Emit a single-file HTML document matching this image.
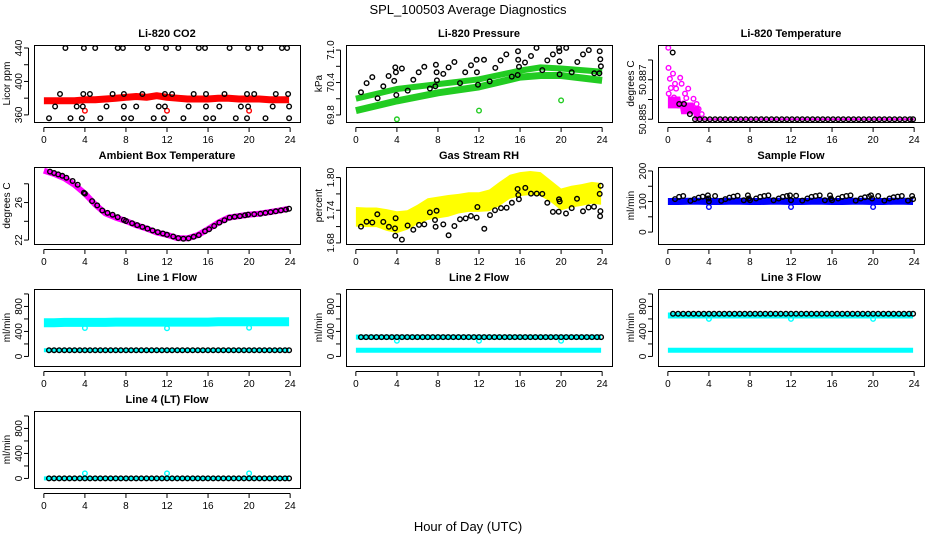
<!DOCTYPE html>
<html><head><meta charset="utf-8">
<style>
html,body{margin:0;padding:0;background:#fff;}
svg{display:block;font-family:"Liberation Sans",Arial,sans-serif;}
</style></head>
<body>
<svg id="chart" width="936" height="540" viewBox="0 0 936 540" xmlns="http://www.w3.org/2000/svg">
<text x="468" y="14" text-anchor="middle" font-size="13">SPL_100503  Average Diagnostics</text>
<text x="468" y="531" text-anchor="middle" font-size="13">Hour of Day (UTC)</text>
</svg>
<script>
// ---------- DATA ----------
const xTicks = [0,4,8,12,16,20,24];
const hourly = [0,1,2,3,4,5,6,7,8,9,10,11,12,13,14,15,16,17,18,19,20,21,22,23,23.9];

// CO2
const co2RedValues = [377,377,377,377,378,378,379,380,381,382,381,383,381,380,379,379,379,380,380,379,379,379,378,378,378];
const co2RedOutHours = [4.0,12.0,20.0];
const co2RedOutValues = [365,365,365];
const co2BlackHours = [2.1,3.9,5.0,7.2,7.7,10.1,11.9,13.1,15.1,15.7,18.1,19.9,21.1,23.2,23.7,
 1.57,3.84,4.49,6.7,7.8,9.6,11.8,12.5,14.6,15.8,17.6,19.8,20.5,22.6,23.8,
 1.1,3.2,3.8,6.1,7.8,9.0,11.2,11.8,14.1,15.8,17.1,19.2,19.9,22.3,23.9,
 0.5,2.6,3.7,5.5,7.8,8.5,10.7,11.7,13.6,15.8,16.5,18.7,19.8,21.6,23.9];
const co2BlackValues = [440,440,440,440,440,440,440,440,440,440,440,440,440,440,440,
 385,385,385,385,385,385,385,385,385,385,385,385,385,385,385,
 370,370,370,370,370,370,370,370,370,370,370,370,370,370,370,
 356,356,356,356,356,356,356,356,356,356,356,356,356,356,356];

// Pressure
const presHours = [0,4,8,12,16,18,20,24];
const presUpper = [70.10,70.28,70.37,70.46,70.62,70.68,70.66,70.60];
const presLower = [69.88,70.06,70.21,70.32,70.50,70.53,70.53,70.44];
const presGreenOutHours = [4.0,12.0,20.0];
const presGreenOutValues = [69.72,69.88,70.07];
const presBlackHours = [0.5,1.05,1.6,2.12,2.67,3.19,3.74,3.84,3.9,3.94,4.49,5.05,5.6,6.12,6.67,7.22,7.74,7.8,7.87,7.9,8.52,9.04,9.6,10.15,10.66,11.22,11.77,11.8,11.9,12.49,13.04,13.59,14.1,14.66,15.2,15.77,15.8,15.82,15.9,16.48,17.07,17.6,18.17,18.66,19.2,19.8,19.83,19.84,19.85,20.5,21.03,21.58,22.13,22.7,23.24,23.76,23.82,23.88,23.73];
const presBlackValues = [70.22,70.39,70.50,70.11,70.33,70.52,70.43,70.68,70.59,70.17,70.66,70.25,70.45,70.59,70.69,70.29,70.33,70.73,70.59,70.44,70.56,70.68,70.78,70.39,70.59,70.72,70.82,70.59,70.36,70.82,70.42,70.67,70.81,70.92,70.51,70.54,70.98,70.82,70.69,70.77,70.89,71.04,70.63,70.81,70.92,71.04,70.98,70.79,70.55,71.04,70.59,70.78,70.92,71.00,70.57,70.98,70.83,70.70,70.57];

// Li-820 temperature
const tempMagHours = [0.04,0.06,0.5,0.2,0.7,0.3,0.08,1.2,1.34,0.8,1.98,1.67,1.8,2.5,2.8,3.0,3.3,0.4,0.9,1.5,2.2,2.6,1.0,0.6,1.9];
const tempMagValues = [50.88862,50.88760,50.88731,50.88705,50.88680,50.88658,50.88630,50.88710,50.88680,50.88655,50.88655,50.88630,50.88607,50.88604,50.88577,50.88552,50.88526,50.8860,50.8859,50.8858,50.8856,50.8854,50.8857,50.8861,50.8855];
const tempBandHours = [0.0,1.2,1.3,2.5,2.6,3.1,3.2,24.0];
const tempBandHigh = [50.88615,50.88615,50.88585,50.88585,50.88565,50.88565,50.88505,50.88505];
const tempBandLow = [50.88555,50.88555,50.88525,50.88525,50.88495,50.88495,50.88495,50.88495];
const tempBlackHours = [0.47,1.11,1.57,2.15,2.65,3.1,3.6,4.1,4.6,5.1,5.6,6.1,6.6,7.1,7.6,8.1,8.6,9.1,9.6,10.1,10.6,11.1,11.6,12.1,12.6,13.1,13.6,14.1,14.6,15.1,15.6,16.1,16.6,17.1,17.6,18.1,18.6,19.1,19.6,20.1,20.6,21.1,21.6,22.1,22.6,23.1,23.6,23.9];
const tempBlackValues = [50.88838,50.88577,50.88577,50.88526,50.885,50.885,50.885,50.885,50.885,50.885,50.885,50.885,50.885,50.885,50.885,50.885,50.885,50.885,50.885,50.885,50.885,50.885,50.885,50.885,50.885,50.885,50.885,50.885,50.885,50.885,50.885,50.885,50.885,50.885,50.885,50.885,50.885,50.885,50.885,50.885,50.885,50.885,50.885,50.885,50.885,50.885,50.885,50.885];

// Ambient box temperature
const ambValues = [29.40,29.05,28.60,27.89,26.95,25.79,24.84,24.39,24.03,23.58,23.23,22.81,22.56,22.21,22.18,22.53,23.16,23.86,24.39,24.56,24.71,24.81,24.98,25.16,25.34];
const ambBlackHours = [0.6,1.0,1.4,1.8,2.2,2.8,3.3,3.9,4.0,4.7,5.2,5.7,6.2,6.7,7.2,7.8,8.0,8.6,9.1,9.6,10.1,10.6,11.1,11.6,12.0,12.6,13.1,13.6,14.1,14.6,15.1,15.7,16.1,16.6,17.1,17.6,18.1,18.6,19.1,19.6,19.9,20.5,21.1,21.6,22.1,22.6,23.1,23.6,23.9];
const ambBlackValues = [29.30,29.15,29.00,28.85,28.65,28.30,27.90,27.05,26.95,26.15,25.70,25.15,24.90,24.70,24.45,24.15,24.03,23.80,23.60,23.40,23.22,23.02,22.85,22.70,22.56,22.38,22.21,22.15,22.18,22.35,22.53,22.95,23.16,23.50,23.86,24.12,24.39,24.48,24.56,24.64,24.71,24.76,24.81,24.90,24.98,25.07,25.16,25.25,25.34];

// Gas stream RH
const rhBandHours = [0,1,2,3,4,5,6,7,8,9,10,11,12,13,14,15,16,17,18,19,20,21,22,23,23.9];
const rhBandCenter = [1.728,1.727,1.727,1.722,1.718,1.722,1.732,1.742,1.745,1.748,1.752,1.755,1.755,1.758,1.770,1.783,1.788,1.790,1.788,1.775,1.760,1.765,1.768,1.772,1.770];
const rhBandHalf = [0.018,0.018,0.018,0.02,0.02,0.018,0.018,0.02,0.02,0.02,0.018,0.018,0.018,0.02,0.022,0.022,0.022,0.022,0.022,0.02,0.02,0.02,0.02,0.02,0.02];
const rhBlackHours = [0.5,1.05,1.6,2.09,2.67,3.22,3.81,3.87,3.84,4.49,5.04,5.6,6.15,6.67,7.22,7.71,7.77,7.87,8.52,9.04,9.6,10.15,10.7,11.21,11.77,11.84,12.52,13.07,13.56,14.14,14.69,15.21,15.76,15.83,15.89,16.51,17.07,17.62,18.17,18.66,19.2,19.77,19.8,19.86,20.48,21.03,21.55,22.13,22.68,23.21,23.76,23.86,23.83,23.8];
const rhBlackValues = [1.710,1.719,1.7175,1.7325,1.7186,1.7096,1.7066,1.7253,1.6933,1.686,1.712,1.704,1.713,1.714,1.736,1.722,1.7096,1.739,1.714,1.694,1.711,1.7235,1.725,1.7295,1.7265,1.746,1.706,1.731,1.740,1.744,1.7446,1.7537,1.779,1.768,1.760,1.781,1.7706,1.7706,1.770,1.7537,1.737,1.7374,1.760,1.756,1.734,1.744,1.761,1.738,1.745,1.7465,1.770,1.785,1.7385,1.729];

// Sample flow
const sfBlue = [100,100,101,101,100,100,101,101,100,100,101,101,100,100,101,101,100,100,101,101,100,100,101,101,100];
const sfBlueOutHours = [4.0,12.0,20.0];
const sfBlueOutValues = [82,82,82];
const sfBlackHours = [0.7,1.1,1.5,2.2,2.6,3.0,3.4,3.9,3.95,4.0,4.6,5.2,5.6,6.0,6.4,6.8,7.4,7.8,7.9,8.0,8.6,9.0,9.4,9.8,10.3,10.8,11.2,11.6,11.9,12.0,12.5,13.1,13.6,14.0,14.4,14.8,15.3,15.8,15.9,16.0,16.6,17.0,17.4,17.8,18.3,18.8,19.2,19.6,19.8,19.9,20.5,21.1,21.6,22.0,22.4,22.8,23.4,23.8,23.9];
const sfBlackValues = [108,115,118,102,108,113,116,120,110,100,118,102,108,113,116,119,104,120,110,104,110,115,118,120,104,110,115,118,120,104,119,103,110,115,118,120,104,120,110,104,110,115,118,120,103,110,114,116,120,110,118,103,110,114,116,118,103,118,108];

// Line flows
const flowHours = [0.5,1,1.5,2,2.5,3,3.5,4,4.5,5,5.5,6,6.5,7,7.5,8,8.5,9,9.5,10,10.5,11,11.5,12,12.5,13,13.5,14,14.5,15,15.5,16,16.5,17,17.5,18,18.5,19,19.5,20,20.5,21,21.5,22,22.5,23,23.5,23.9];
const line1Black = [100,100,100,100,100,100,100,100,100,100,100,100,100,100,100,100,100,100,100,100,100,100,100,100,100,100,100,100,100,100,100,100,100,100,100,100,100,100,100,100,100,100,100,100,100,100,100,100];
const line2Black = [310,310,310,310,310,310,310,310,310,310,310,310,310,310,310,310,310,310,310,310,310,310,310,310,310,310,310,310,310,310,310,310,310,310,310,310,310,310,310,310,310,310,310,310,310,310,310,310];
const line3Black = [684,684,684,684,684,684,684,684,684,684,684,684,684,684,684,684,684,684,684,684,684,684,684,684,684,684,684,684,684,684,684,684,684,684,684,684,684,684,684,684,684,684,684,684,684,684,684,684];
const line4Black = [0,0,0,0,0,0,0,0,0,0,0,0,0,0,0,0,0,0,0,0,0,0,0,0,0,0,0,0,0,0,0,0,0,0,0,0,0,0,0,0,0,0,0,0,0,0,0,0];
const line1CyanHigh = [540,540,545,545,545,545,545,550,550,550,550,550,550,550,550,550,550,555,555,555,555,555,555,555,555];
const line1CyanLow = [100,100,100,100,100,100,100,100,100,100,100,100,100,100,100,100,100,100,100,100,100,100,100,100,100];
const line2CyanHigh = [310,310,310,310,310,310,310,310,310,310,310,310,310,310,310,310,310,310,310,310,310,310,310,310,310];
const line2CyanLow = [100,100,100,100,100,100,100,100,100,100,100,100,100,100,100,100,100,100,100,100,100,100,100,100,100];
const line3CyanHigh = [655,655,655,655,655,655,655,655,655,655,655,655,655,655,655,655,655,655,655,655,655,655,655,655,655];
const line3CyanLow = [100,100,100,100,100,100,100,100,100,100,100,100,100,100,100,100,100,100,100,100,100,100,100,100,100];
const line4Cyan = [0,0,0,0,0,0,0,0,0,0,0,0,0,0,0,0,0,0,0,0,0,0,0,0,0];
const outHours = [4.0,12.0,20.0];
const line1CyanOut = [455,450,460];
const line2CyanOut = [250,250,250];
const line3CyanOut = [600,600,600];
const line4CyanOut = [80,80,80];

// ---------- DRAWING ----------
const NS = "http://www.w3.org/2000/svg";
const svg = document.getElementById("chart");
const colLeft = [34,346,658];
const rowTop = [45,167,289,411];
const PW = 266, PH = 77;
const XMIN = -0.96, XMAX = 24.96;

function mk(tag, parent){ const e = document.createElementNS(NS, tag); parent.appendChild(e); return e; }

function makePanel(col,row,title,ylab,ymin,ymax,yTicks,yLabels,key){
  const L = colLeft[col], T = rowTop[row];
  const g = mk("g", svg);
  
  
  const xs = h => L + (h - XMIN) / (XMAX - XMIN) * PW;
  const ys = v => T + PH - (v - ymin) / (ymax - ymin) * PH;
  const clip = mk("clipPath", g); clip.setAttribute("id", "clip-" + key);
  const cr = mk("rect", clip); cr.setAttribute("x", L); cr.setAttribute("y", T); cr.setAttribute("width", PW); cr.setAttribute("height", PH);
  const plot = mk("g", g); plot.setAttribute("clip-path", "url(#clip-" + key + ")");
  
  
  // box
  const box = mk("rect", g);
  
  
  box.setAttribute("x", L + 0.5); box.setAttribute("y", T + 0.5); box.setAttribute("width", PW); box.setAttribute("height", PH);
  box.setAttribute("fill", "none"); box.setAttribute("stroke", "#000"); box.setAttribute("stroke-width", "1");
  // title
  const tt = mk("text", g);
  
  
  tt.setAttribute("x", L + PW/2); tt.setAttribute("y", T - 8); tt.setAttribute("text-anchor", "middle");
  tt.setAttribute("font-size", "11"); tt.setAttribute("font-weight", "bold"); tt.textContent = title;
  // x axis
  const xa = mk("g", g);
  
  
  const xl = mk("line", xa); xl.setAttribute("x1", xs(xTicks[0])); xl.setAttribute("x2", xs(xTicks[xTicks.length-1]));
  xl.setAttribute("y1", T + PH + 5.5); xl.setAttribute("y2", T + PH + 5.5); xl.setAttribute("stroke", "#000");
  xTicks.forEach(t => {
    const tk = mk("line", xa); tk.setAttribute("x1", xs(t)); tk.setAttribute("x2", xs(t));
    tk.setAttribute("y1", T + PH + 5.5); tk.setAttribute("y2", T + PH + 10); tk.setAttribute("stroke", "#000");
    const lb = mk("text", xa);
    
    
    lb.setAttribute("x", xs(t)); lb.setAttribute("y", T + PH + 21); lb.setAttribute("text-anchor", "middle");
    lb.setAttribute("font-size", "10"); lb.textContent = t;
  });
  // y axis
  const ya = mk("g", g);
  
  
  const yl = mk("line", ya); yl.setAttribute("x1", L - 5.5); yl.setAttribute("x2", L - 5.5);
  yl.setAttribute("y1", ys(yTicks[0])); yl.setAttribute("y2", ys(yTicks[yTicks.length-1])); yl.setAttribute("stroke", "#000");
  yTicks.forEach(t => {
    const tk = mk("line", ya); tk.setAttribute("x1", L - 5.5); tk.setAttribute("x2", L - 10);
    tk.setAttribute("y1", ys(t)); tk.setAttribute("y2", ys(t)); tk.setAttribute("stroke", "#000");
  });
  yLabels.forEach(t => {
    const lb = mk("text", ya);
    
    
    const x = L - 12, y = ys(parseFloat(t));
    lb.setAttribute("x", x); lb.setAttribute("y", y); lb.setAttribute("text-anchor", "middle");
    lb.setAttribute("transform", "rotate(-90 " + x + " " + y + ")");
    lb.setAttribute("font-size", "10"); lb.textContent = t;
  });
  const yt = mk("text", g);
  
  
  const yx = L - 24, yy = T + PH/2;
  yt.setAttribute("x", yx); yt.setAttribute("y", yy); yt.setAttribute("text-anchor", "middle");
  yt.setAttribute("transform", "rotate(-90 " + yx + " " + yy + ")");
  yt.setAttribute("font-size", "10"); yt.textContent = ylab;
  return {plot, xs, ys};
}

function band(p, hours, vals, color, width, name){
  const pl = mk("polyline", p.plot);
  
  
  pl.setAttribute("points", hours.map((h,i) => p.xs(h).toFixed(1) + "," + p.ys(vals[i]).toFixed(1)).join(" "));
  pl.setAttribute("fill", "none"); pl.setAttribute("stroke", color); pl.setAttribute("stroke-width", width);
  pl.setAttribute("stroke-linejoin", "round");
}
function area(p, hours, hi, lo, color, name){
  const pts = hours.map((h,i) => p.xs(h).toFixed(1) + "," + p.ys(hi[i]).toFixed(1));
  for (let i = hours.length - 1; i >= 0; i--) pts.push(p.xs(hours[i]).toFixed(1) + "," + p.ys(lo[i]).toFixed(1));
  const pg = mk("polygon", p.plot);
  
  
  pg.setAttribute("points", pts.join(" ")); pg.setAttribute("fill", color);
}
function points(p, hours, vals, color, name, r){
  const g = mk("g", p.plot);
  
  
  hours.forEach((h,i) => {
    const c = mk("circle", g);
    
    
    c.setAttribute("cx", p.xs(h).toFixed(1)); c.setAttribute("cy", p.ys(vals[i]).toFixed(1));
    c.setAttribute("r", r || 2.3); c.setAttribute("fill", "none"); c.setAttribute("stroke", color); c.setAttribute("stroke-width", "1.4");
  });
}

// Panel 1: CO2
let p = makePanel(0,0,"Li-820 CO2","Licor ppm",351.5,443.6,[360,380,400,420,440],["360","400","440"],"co2");
band(p, hourly, co2RedValues, "#ff0000", 7, "co2-red-series");
points(p, co2RedOutHours, co2RedOutValues, "#ff0000", "co2-red-outliers");
points(p, co2BlackHours, co2BlackValues, "#000", "co2-black-series");

// Panel 2: Pressure
p = makePanel(1,0,"Li-820 Pressure","kPa",69.67,71.094,[69.8,70.1,70.4,70.7,71.0],["69.8","70.4","71.0"],"pressure");
band(p, presHours, presUpper, "#22cc22", 6, "pressure-green-upper");
band(p, presHours, presLower, "#22cc22", 7, "pressure-green-lower");
points(p, presGreenOutHours, presGreenOutValues, "#22cc22", "pressure-green-outliers");
points(p, presBlackHours, presBlackValues, "#000", "pressure-black-series");

// Panel 3: Li-820 temperature
p = makePanel(2,0,"Li-820 Temperature","degrees C",50.88486,50.88876,[50.885,50.886,50.887,50.888],["50.885","50.887"],"li820-temp");
area(p, tempBandHours, tempBandHigh, tempBandLow, "#ff00ff", "li820-temp-magenta-band");
points(p, tempMagHours, tempMagValues, "#ff00ff", "li820-temp-magenta-series");
points(p, tempBlackHours, tempBlackValues, "#000", "li820-temp-black-series");

// Panel 4: Ambient box temperature
p = makePanel(0,1,"Ambient Box Temperature","degrees C",21.58,29.79,[22,24,26,28],["22","26"],"ambient");
band(p, hourly, ambValues, "#ff00ff", 6, "ambient-magenta-series");
points(p, ambBlackHours, ambBlackValues, "#000", "ambient-black-series");

// Panel 5: RH
p = makePanel(1,1,"Gas Stream RH","percent",1.678,1.8194,[1.68,1.71,1.74,1.77,1.80],["1.68","1.74","1.80"],"rh");
const rhHi = rhBandCenter.map((c,i) => c + rhBandHalf[i]);
const rhLo = rhBandCenter.map((c,i) => c - rhBandHalf[i]);
area(p, rhBandHours, rhHi, rhLo, "#ffff00", "rh-yellow-band");
points(p, rhBlackHours, rhBlackValues, "#000", "rh-black-series");

// Panel 6: Sample flow
p = makePanel(2,1,"Sample Flow","ml/min",-39,213,[0,50,100,150,200],["0","100","200"],"sample-flow");
band(p, hourly, sfBlue, "#0000ff", 7, "sample-flow-blue-series");
points(p, sfBlueOutHours, sfBlueOutValues, "#0000ff", "sample-flow-blue-outliers");
points(p, sfBlackHours, sfBlackValues, "#000", "sample-flow-black-series");

const fT = [0,200,400,600,800,1000], fL = ["0","400","800"];
// Line 1
p = makePanel(0,2,"Line 1 Flow","ml/min",-153,1079,fT,fL,"line1");
band(p, hourly, line1CyanHigh, "#00ffff", 9, "line1-cyan-high");
band(p, hourly, line1CyanLow, "#00ffff", 4, "line1-cyan-low");
points(p, outHours, line1CyanOut, "#00ffff", "line1-cyan-outliers");
points(p, flowHours, line1Black, "#000", "line1-black-series");
// Line 2
p = makePanel(1,2,"Line 2 Flow","ml/min",-153,1079,fT,fL,"line2");
band(p, hourly, line2CyanHigh, "#00ffff", 5, "line2-cyan-high");
band(p, hourly, line2CyanLow, "#00ffff", 5, "line2-cyan-low");
points(p, outHours, line2CyanOut, "#00ffff", "line2-cyan-outliers");
points(p, flowHours, line2Black, "#000", "line2-black-series");
// Line 3
p = makePanel(2,2,"Line 3 Flow","ml/min",-153,1079,fT,fL,"line3");
band(p, hourly, line3CyanHigh, "#00ffff", 6, "line3-cyan-high");
band(p, hourly, line3CyanLow, "#00ffff", 5, "line3-cyan-low");
points(p, outHours, line3CyanOut, "#00ffff", "line3-cyan-outliers");
points(p, flowHours, line3Black, "#000", "line3-black-series");
// Line 4
p = makePanel(0,3,"Line 4 (LT) Flow","ml/min",-153,1079,fT,fL,"line4");
band(p, hourly, line4Cyan, "#00ffff", 4, "line4-cyan-series");
points(p, outHours, line4CyanOut, "#00ffff", "line4-cyan-outliers");
points(p, flowHours, line4Black, "#000", "line4-black-series");
</script>
</body></html>
